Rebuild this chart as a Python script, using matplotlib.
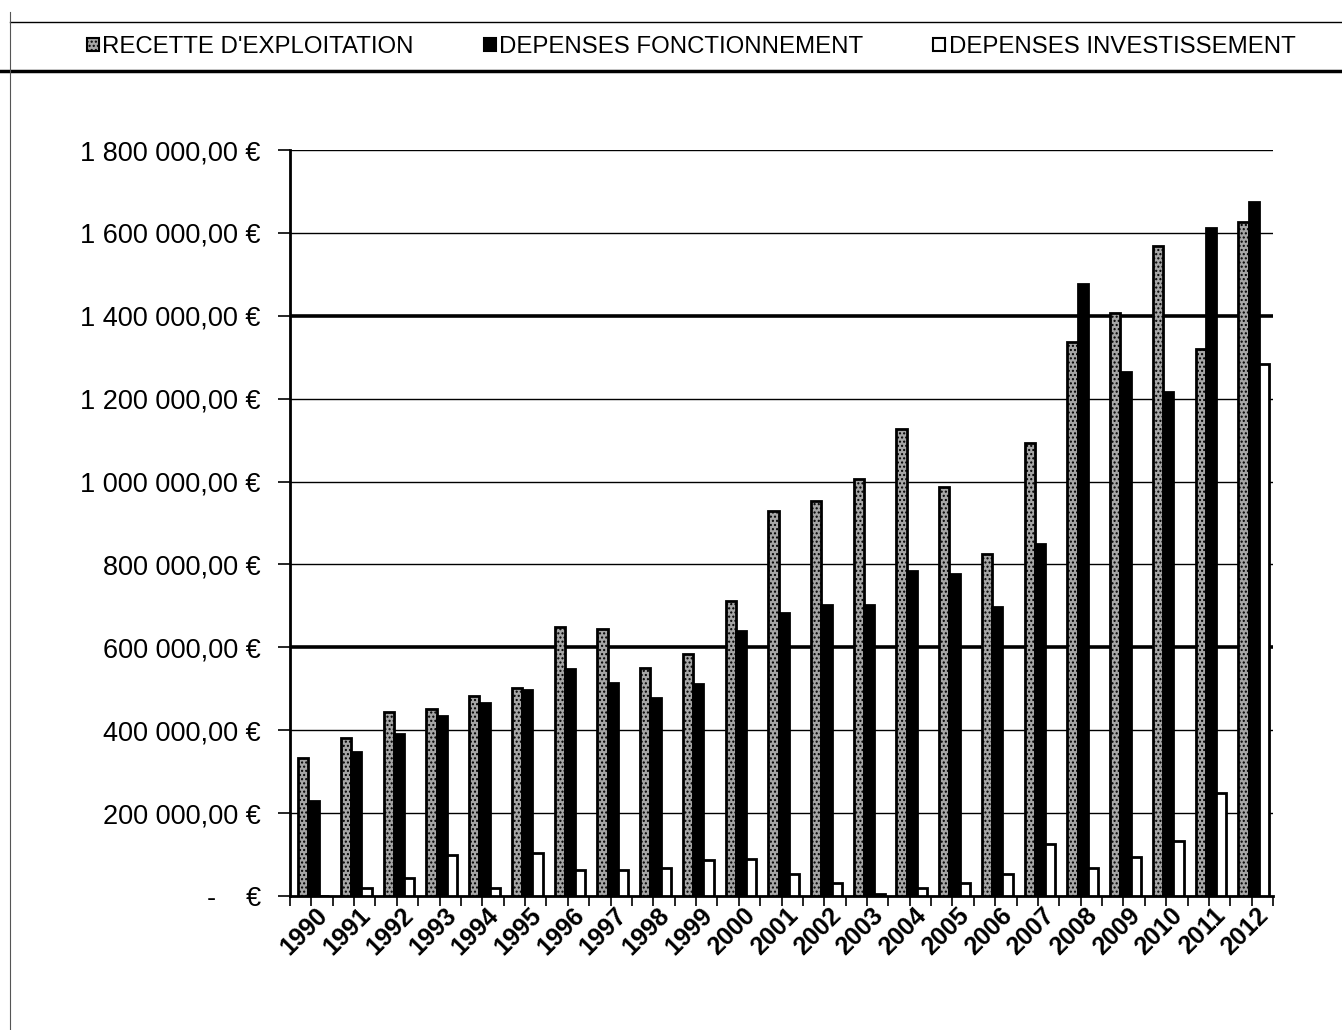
import matplotlib
matplotlib.use("Agg")
import matplotlib.pyplot as plt
import numpy as np
from matplotlib.lines import Line2D
from matplotlib.patches import Patch

years = ["1990", "1991", "1992", "1993", "1994", "1995", "1996", "1997", "1998", "1999",
         "2000", "2001", "2002", "2003", "2004", "2005", "2006", "2007", "2008", "2009",
         "2010", "2011", "2012"]
recette = [333000, 382000, 445000, 452000, 483000, 503000, 650000, 645000, 551000, 585000,
           713000, 930000, 954000, 1005000, 1128000, 986000, 824000, 1094000, 1337000, 1406000,
           1568000, 1319000, 1626000]
fonctionnement = [230000, 348000, 391000, 435000, 466000, 498000, 548000, 515000, 478000, 512000,
                  640000, 684000, 703000, 703000, 783000, 778000, 698000, 850000, 1476000, 1264000,
                  1215000, 1612000, 1674000]
investissement = [0, 19000, 44000, 99000, 19000, 104000, 63000, 63000, 68000, 87000,
                  89000, 53000, 32000, 6000, 19000, 32000, 53000, 126000, 68000, 94000,
                  133000, 249000, 1283000]
series_names = ["RECETTE D'EXPLOITATION", "DEPENSES FONCTIONNEMENT", "DEPENSES INVESTISSEMENT"]
yticks = [0, 200000, 400000, 600000, 800000, 1000000, 1200000, 1400000, 1600000, 1800000]

plt.rcParams['font.family'] = ['Liberation Sans', 'DejaVu Sans']
plt.rcParams['hatch.color'] = '#dcdcdc'
plt.rcParams['hatch.linewidth'] = 1.0

fig = plt.figure(figsize=(13.42, 10.30), dpi=100)
ax = fig.add_axes([290/1342, 1-896/1030, (1273-290)/1342, (896-150)/1030])

x = np.arange(len(years))
w = 0.24
shift = 0.05
colors = ['#a6a6a6', '#000000', '#ffffff']
data = [recette, fonctionnement, investissement]
for i, (vals, c) in enumerate(zip(data, colors)):
    ax.bar(x + (i - 1) * w + shift, vals, width=w, color=c, edgecolor='black', linewidth=2.0,
           hatch='....' if i == 0 else None, zorder=3)

ax.set_xlim(-0.5, len(years) - 0.5)
ax.set_ylim(0, 1800000)

def fmt(v):
    if v == 0:
        return "-    €"
    s = f"{v:,.2f}".replace(",", " ").replace(".", ",")
    return s + " €"

ax.set_yticks(yticks)
ax.set_yticklabels([fmt(v) for v in yticks], fontsize=19.5)
for v in yticks[1:]:
    lw = 2.6 if v in (600000, 1400000) else 1.0
    ax.axhline(v, color='black', linewidth=lw, zorder=1)
ax.tick_params(axis='y', direction='out', length=9, width=1.2, pad=12)

ax.set_xticks(x + 0.1)
ax.set_xticklabels(years, rotation=45, ha='right', va='top', rotation_mode='anchor',
                   fontsize=18, fontweight='bold')
ax.tick_params(axis='x', which='major', length=0, pad=5)
ax.set_xticks(np.arange(-0.5, len(years), 0.5), minor=True)
ax.tick_params(axis='x', which='minor', direction='out', length=7, width=1.2)

for side in ['top', 'right']:
    ax.spines[side].set_visible(False)
ax.spines['left'].set_linewidth(2.0)
ax.spines['bottom'].set_linewidth(2.0)

# legend
handles = [Patch(facecolor=colors[i], edgecolor='black', linewidth=1.5,
                 hatch='....' if i == 0 else None) for i in range(3)]
fig.legend(handles, series_names, loc='center', bbox_to_anchor=(0.515, 1-47/1030), ncol=3,
           frameon=False, fontsize=17.3, handlelength=0.5, handleheight=0.5, handletextpad=0.15,
           columnspacing=2.9)

# frame lines
fig.add_artist(Line2D([10/1342, 1], [1-22/1030, 1-22/1030], color='black', linewidth=1.0))
fig.add_artist(Line2D([0, 1], [1-71/1030, 1-71/1030], color='black', linewidth=2.5))
fig.add_artist(Line2D([10/1342, 10/1342], [0, 1-12/1030], color='#555555', linewidth=0.8))

fig.savefig("out.png", dpi=100)
